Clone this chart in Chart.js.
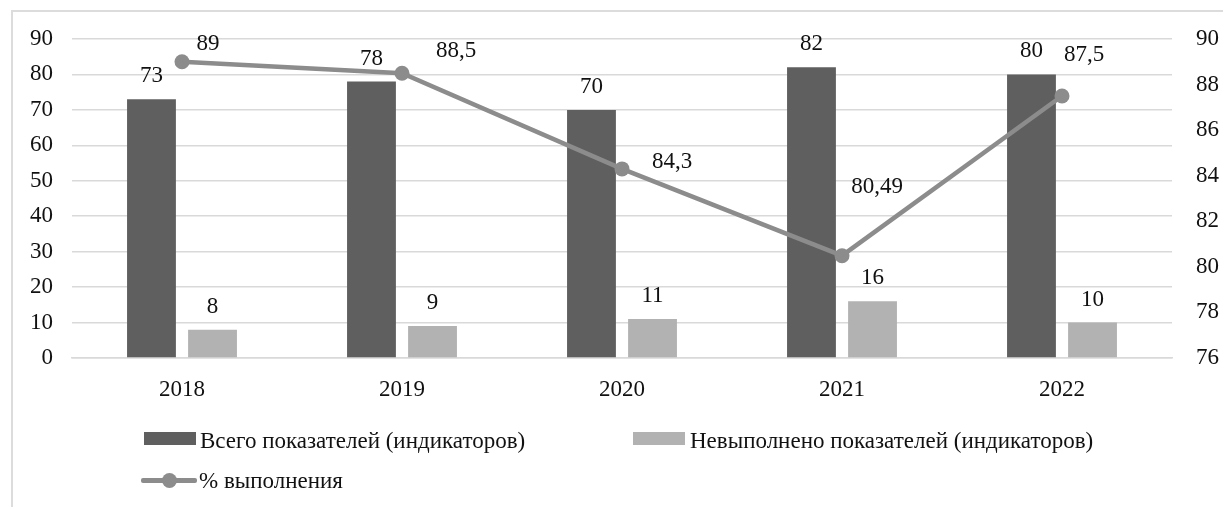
<!DOCTYPE html>
<html>
<head>
<meta charset="utf-8">
<script src="https://cdn.jsdelivr.net/npm/chart.js@4.4.0/dist/chart.umd.min.js"></script>
<style>
  html, body { margin: 0; padding: 0; background: #fff; }
  #wrap { position: relative; width: 1223px; height: 507px; overflow: hidden; background: #fff; }
  #frame { position: absolute; left: 11px; top: 10px; width: 1400px; height: 700px; border: 2px solid #dcdcdc; box-sizing: border-box; }
  #c { position: absolute; left: 0; top: 0; }
  .lg { position: absolute; font-family: "Times New Roman", "Liberation Serif", Tinos, "DejaVu Serif", serif; font-size: 23px; color: #111; white-space: nowrap; line-height: 1; }
  .sw { position: absolute; }
</style>
</head>
<body>
<div id="wrap">
  <div id="frame"></div>
  <canvas id="c" width="1223" height="507"></canvas>
  <div id="legend"></div>
</div>
<script>
// ---- data ----
const categories = ["2018", "2019", "2020", "2021", "2022"];
const totalIndicators = [73, 78, 70, 82, 80];
const notFulfilled = [8, 9, 11, 16, 10];
const percentDone = [89, 88.5, 84.3, 80.49, 87.5];
const leftTicks = [0, 10, 20, 30, 40, 50, 60, 70, 80, 90];
const rightTicks = [76, 78, 80, 82, 84, 86, 88, 90];
const seriesNames = ["Всего показателей (индикаторов)", "Невыполнено показателей (индикаторов)", "% выполнения"];

// ---- styling ----
const FONT = { family: '"Times New Roman", "Liberation Serif", Tinos, "DejaVu Serif", serif', size: 23 };
const TEXT = '#111';
const DARK = '#5f5f5f', LIGHT = '#b2b2b2', LINE = '#8c8c8c', GRID = '#d9d9d9';
const lineLabelOffsets = [[26, -18], [54, -22], [50, -7], [35, -69], [22, -41]];

const fmt = v => String(v).replace('.', ',');

const labelPlugin = {
  id: 'valueLabels',
  afterDatasetsDraw(chart) {
    const ctx = chart.ctx;
    ctx.save();
    ctx.font = FONT.size + 'px ' + FONT.family;
    ctx.fillStyle = TEXT;
    ctx.textAlign = 'center';
    ctx.textBaseline = 'middle';
    chart.data.datasets.forEach((ds, di) => {
      const meta = chart.getDatasetMeta(di);
      meta.data.forEach((el, i) => {
        const v = ds.data[i];
        if (ds.type === 'line') {
          const o = lineLabelOffsets[i];
          ctx.fillText(fmt(v), el.x + o[0], el.y + o[1]);
        } else {
          ctx.fillText(fmt(v), el.x, el.y - 23);
        }
      });
    });
    ctx.restore();
  }
};

const chart = new Chart(document.getElementById('c'), {
  data: {
    labels: categories,
    datasets: [
      { type: 'bar', label: seriesNames[0], data: totalIndicators, backgroundColor: DARK, yAxisID: 'y', order: 1,
        categoryPercentage: 0.555, barPercentage: 0.8 },
      { type: 'bar', label: seriesNames[1], data: notFulfilled, backgroundColor: LIGHT, yAxisID: 'y', order: 2,
        categoryPercentage: 0.555, barPercentage: 0.8 },
      { type: 'line', label: seriesNames[2], data: percentDone, borderColor: LINE, backgroundColor: LINE,
        borderWidth: 4.5, pointRadius: 7.5, pointBackgroundColor: LINE, pointBorderWidth: 0,
        yAxisID: 'y1', order: 0, tension: 0 }
    ]
  },
  options: {
    responsive: false,
    animation: false,
    events: [],
    layout: { padding: { top: 39, bottom: 0, left: 0, right: 0 } },
    plugins: { legend: { display: false }, tooltip: { enabled: false } },
    scales: {
      x: {
        grid: { display: false, drawTicks: false },
        border: { display: true, color: GRID, width: 1.5 },
        ticks: { font: FONT, color: TEXT, padding: 18 },
        afterFit(s) { s.height = 149; }
      },
      y: {
        position: 'left', min: 0, max: 90,
        afterBuildTicks(s) { s.ticks = leftTicks.map(v => ({ value: v })); },
        grid: { color: GRID, lineWidth: 1.5, drawTicks: false },
        border: { display: false },
        ticks: { font: FONT, color: TEXT, padding: 19 },
        afterFit(s) { s.width = 72; }
      },
      y1: {
        position: 'right', min: 76, max: 90,
        afterBuildTicks(s) { s.ticks = rightTicks.map(v => ({ value: v })); },
        grid: { display: false, drawTicks: false },
        border: { display: false },
        ticks: { font: FONT, color: TEXT, padding: 24 },
        afterFit(s) { s.width = 51; }
      }
    }
  },
  plugins: [labelPlugin]
});

// ---- HTML legend built from the datasets ----
(function buildLegend() {
  const host = document.getElementById('legend');
  const spots = [
    { sx: 144, sy: 432, tx: 200, ty: 429 },
    { sx: 633, sy: 432, tx: 690, ty: 429 },
    { sx: 141, sy: 480, tx: 199, ty: 469 }
  ];
  chart.data.datasets.forEach((ds, i) => {
    const p = spots[i];
    if (ds.type === 'line') {
      const ln = document.createElement('div');
      ln.className = 'sw';
      Object.assign(ln.style, { left: p.sx + 'px', top: (p.sy - 2) + 'px', width: '56px', height: '5px', background: ds.borderColor, borderRadius: '2px' });
      host.appendChild(ln);
      const dot = document.createElement('div');
      dot.className = 'sw';
      Object.assign(dot.style, { left: (p.sx + 21) + 'px', top: (p.sy - 7) + 'px', width: '15px', height: '15px', background: ds.borderColor, borderRadius: '50%' });
      host.appendChild(dot);
    } else {
      const b = document.createElement('div');
      b.className = 'sw';
      Object.assign(b.style, { left: p.sx + 'px', top: p.sy + 'px', width: '52px', height: '13px', background: ds.backgroundColor });
      host.appendChild(b);
    }
    const t = document.createElement('div');
    t.className = 'lg';
    t.textContent = ds.label;
    Object.assign(t.style, { left: p.tx + 'px', top: p.ty + 'px' });
    host.appendChild(t);
  });
})();
</script>
</body>
</html>
